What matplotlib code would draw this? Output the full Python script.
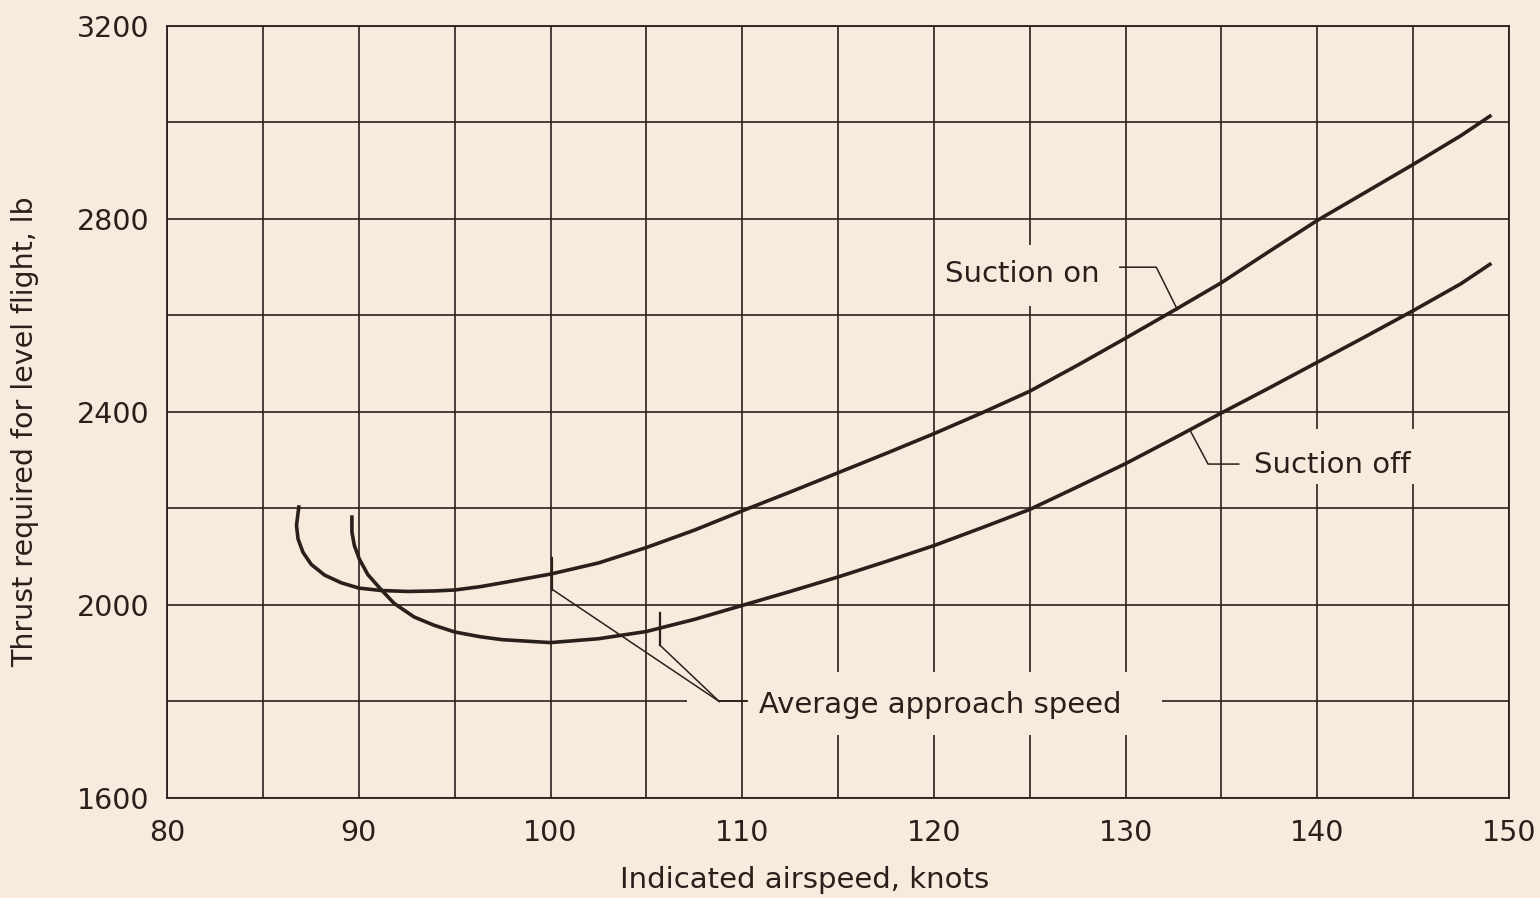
import matplotlib
matplotlib.use("Agg")
from matplotlib import pyplot as plt
from matplotlib.patches import Rectangle

# values
speed_on = [86.87, 86.75, 86.83, 87.09, 87.52, 88.21, 89.08, 90.0, 91.16, 92.54,
            93.92, 95.0, 96.35, 97.5, 100.0, 102.5, 105.0, 107.5, 110.0, 112.5,
            115.0, 117.5, 120.0, 122.5, 125.0, 127.5, 130.0, 132.5, 135.0, 137.5,
            140.0, 142.5, 145.0, 147.5, 149.0]
thrust_on = [2203, 2165, 2137, 2109, 2084, 2062, 2046, 2035, 2030, 2028,
             2029, 2031, 2038, 2046, 2064, 2087, 2119, 2155, 2195, 2234,
             2274, 2314, 2355, 2398, 2443, 2497, 2553, 2610, 2668, 2733,
             2797, 2855, 2913, 2973, 3013]

speed_off = [89.64, 89.64, 89.77, 90.03, 90.47, 91.16, 91.85, 92.89, 93.92, 95.0,
             96.35, 97.5, 100.0, 102.5, 105.0, 107.5, 110.0, 112.5, 115.0, 117.5,
             120.0, 122.5, 125.0, 127.5, 130.0, 132.5, 135.0, 137.5, 140.0, 142.5,
             145.0, 147.5, 149.0]
thrust_off = [2182, 2151, 2123, 2095, 2063, 2032, 2003, 1975, 1958, 1944,
              1934, 1928, 1922, 1930, 1945, 1970, 1999, 2028, 2058, 2090,
              2123, 2160, 2198, 2245, 2293, 2345, 2398, 2450, 2503, 2556,
              2610, 2666, 2706]

approach_speed = [100.1, 105.7]
approach_tick_top = [2097, 1984]
approach_tick_bottom = [2032, 1917]

x_ticks = [80, 90, 100, 110, 120, 130, 140, 150]
y_ticks = [1600, 2000, 2400, 2800, 3200]

BG = "#F8EADC"
INK = "#2A201B"


def main():
    plt.rcParams["font.family"] = ["DejaVu Sans"]
    fig = plt.figure(figsize=(15.4, 8.98), dpi=100, facecolor=BG)
    ax = fig.add_axes([0.1085, 0.1114, 0.8714, 0.8597], facecolor=BG)

    ax.set_xlim(80, 150)
    ax.set_ylim(1600, 3200)
    ax.set_xticks(x_ticks)
    ax.set_yticks(y_ticks)
    ax.set_xticks(range(80, 151, 5), minor=True)
    ax.set_yticks(range(1600, 3201, 200), minor=True)
    ax.set_axisbelow(True)
    ax.grid(True, which="both", color=INK, lw=1.2)
    ax.tick_params(which="both", length=0, colors=INK, labelsize=20.5)
    ax.tick_params(axis="x", pad=15)
    ax.tick_params(axis="y", pad=13)
    for s in ax.spines.values():
        s.set_color(INK)
        s.set_linewidth(1.3)

    # curves
    ax.plot(speed_on, thrust_on, color=INK, lw=2.6, solid_joinstyle="round", zorder=2)
    ax.plot(speed_off, thrust_off, color=INK, lw=2.6, solid_joinstyle="round", zorder=2)

    # approach speed marks and leaders
    corner = (108.8, 1800)
    for x, t, b in zip(approach_speed, approach_tick_top, approach_tick_bottom):
        ax.plot([x, x], [t, b], color=INK, lw=1.6, zorder=4)
        ax.plot([x, corner[0]], [b, corner[1]], color=INK, lw=1.1, zorder=4)
    ax.plot([corner[0], 110.2], [corner[1], corner[1]], color=INK, lw=1.1, zorder=4)

    # gaps in the grid round the labels
    for (x0, y0, w, h) in [(110.3, 1730, 21.6, 132), (107.1, 1790, 1.7, 20),
                           (120.4, 2620, 9.0, 125), (136.5, 2250, 9.1, 115)]:
        ax.add_patch(Rectangle((x0, y0), w, h, facecolor=BG, edgecolor="none", zorder=1))

    ax.text(110.9, 1776, "Average approach speed", fontsize=21, color=INK, zorder=3)

    ax.plot([129.7, 131.6, 132.7], [2700, 2700, 2612], color=INK, lw=1.1, zorder=4)
    ax.text(120.6, 2670, "Suction on", fontsize=21, color=INK, zorder=3)

    ax.plot([133.4, 134.3, 135.9], [2359, 2292, 2292], color=INK, lw=1.1, zorder=4)
    ax.text(136.7, 2274, "Suction off", fontsize=21, color=INK, zorder=3)

    ax.set_xlabel("Indicated airspeed, knots", fontsize=21, color=INK, va="center")
    ax.xaxis.set_label_coords(0.475, -0.106)
    ax.set_ylabel("Thrust required for level flight, lb", fontsize=20.5, color=INK, va="center")
    ax.yaxis.set_label_coords(-0.106, 0.474)

    fig.savefig("out.png", dpi=100, facecolor=BG)


if __name__ == "__main__":
    main()
